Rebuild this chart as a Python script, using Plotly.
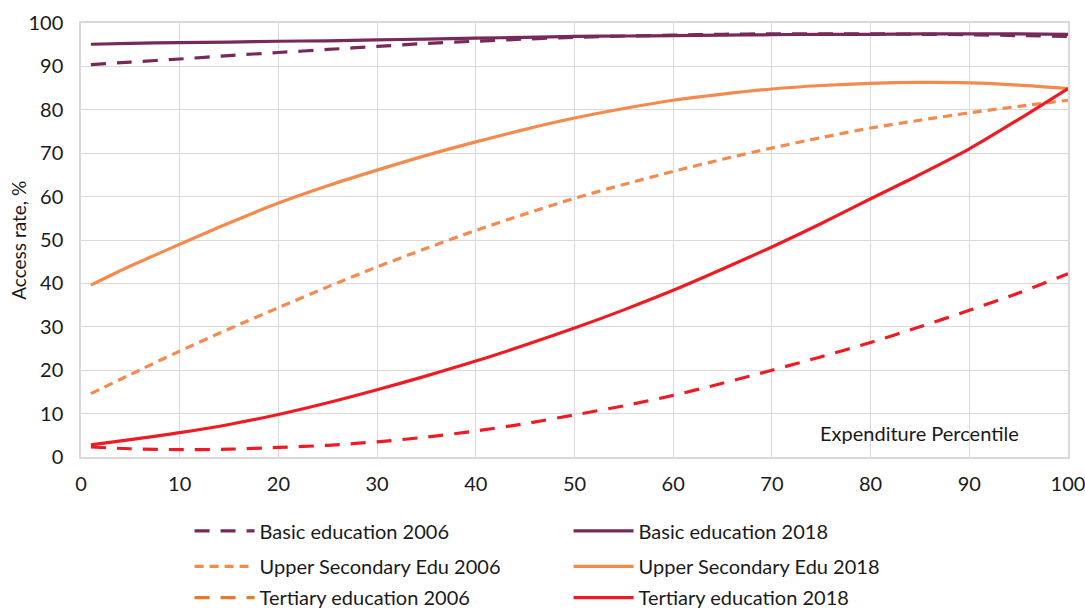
import plotly.graph_objects as go

# Expenditure percentile (x) and access rates (%)
percentile = [1, 5, 10, 15, 20, 25, 30, 35, 40, 45, 50, 55, 60, 65, 70, 75, 80, 85, 90, 95, 100]

basic_2006 = [90.4, 91.0, 91.7, 92.5, 93.2, 93.9, 94.6, 95.3, 95.8, 96.3, 96.7, 97.0, 97.2, 97.4, 97.5, 97.5, 97.5, 97.4, 97.3, 97.1, 96.9]
basic_2018 = [95.1, 95.3, 95.5, 95.6, 95.8, 95.9, 96.1, 96.3, 96.5, 96.7, 96.9, 97.0, 97.1, 97.2, 97.3, 97.4, 97.4, 97.5, 97.5, 97.5, 97.4]
upper_2006 = [14.6, 19.0, 24.4, 29.5, 34.4, 39.2, 43.8, 48.1, 52.2, 56.0, 59.6, 62.8, 65.8, 68.6, 71.2, 73.6, 75.8, 77.6, 79.3, 80.8, 82.2]
upper_2018 = [39.6, 44.0, 49.0, 53.9, 58.5, 62.5, 66.1, 69.5, 72.6, 75.5, 78.1, 80.3, 82.2, 83.6, 84.8, 85.6, 86.1, 86.3, 86.2, 85.7, 84.9]
tertiary_2006 = [2.3, 1.9, 1.7, 1.8, 2.2, 2.7, 3.5, 4.6, 6.0, 7.7, 9.7, 11.8, 14.2, 17.0, 20.0, 23.1, 26.4, 30.0, 33.8, 37.8, 42.2]
tertiary_2018 = [2.8, 4.0, 5.6, 7.5, 9.8, 12.5, 15.5, 18.7, 22.1, 25.8, 29.7, 33.9, 38.4, 43.3, 48.4, 53.8, 59.5, 65.1, 71.0, 77.8, 84.9]

x_ticks = [0, 10, 20, 30, 40, 50, 60, 70, 80, 90, 100]
y_ticks = [0, 10, 20, 30, 40, 50, 60, 70, 80, 90, 100]

PURPLE = "#772A5A"
ORANGE = "#F58A4E"
RED = "#ED1C24"
LEGEND_ORANGE = "#E57A2B"

FONT = "Lato"
TXT = "#1a1a1a"

fig = go.Figure()

def add(y, name, color, dash, legend="legend", showlegend=True, rank=None):
    fig.add_trace(go.Scatter(
        x=percentile, y=y, name=name, mode="lines",
        line=dict(color=color, width=3.2, dash=dash, shape="spline", smoothing=0.8),
        showlegend=showlegend, legend=legend, legendrank=rank, hoverinfo="name+x+y",
    ))

add(basic_2006, "Basic education 2006", PURPLE, "15px,11px", "legend", rank=1)
add(basic_2018, "Basic education 2018", PURPLE, "solid", "legend", rank=2)
add(upper_2006, "Upper Secondary Edu 2006", ORANGE, "9px,6px", "legend2", rank=1)
add(upper_2018, "Upper Secondary Edu 2018", ORANGE, "solid", "legend2", rank=2)
add(tertiary_2006, "Tertiary education 2006", RED, "15px,11px", "legend3", showlegend=False)
add(tertiary_2018, "Tertiary education 2018", RED, "solid", "legend3", rank=2)

# legend-only entry (the source legend shows this series in orange)
fig.add_trace(go.Scatter(
    x=[None], y=[None], name="Tertiary education 2006", mode="lines",
    line=dict(color=LEGEND_ORANGE, width=3.2, dash="15px,11px"),
    legend="legend3", legendrank=1, hoverinfo="skip",
))

fig.add_annotation(
    x=95.2, y=5.5, xref="x", yref="y", text="Expenditure Percentile",
    showarrow=False, xanchor="right", yanchor="middle",
    font=dict(family=FONT, size=20, color=TXT),
)

# y-axis title placed as rotated text left of the tick labels
fig.add_annotation(
    x=-0.064, y=0.5, xref="paper", yref="paper", text="Access rate, %",
    showarrow=False, textangle=-90, xanchor="center", yanchor="middle",
    font=dict(family=FONT, size=19, color=TXT),
)

def leg(yc):
    return dict(
        orientation="h", x=0.110, y=yc, xanchor="left", yanchor="middle",
        entrywidth=304, entrywidthmode="pixels",
        font=dict(family=FONT, size=20, color=TXT),
        itemwidth=60, traceorder="normal", bgcolor="rgba(0,0,0,0)",
    )

grid = "#D9D9D9"
fig.update_layout(
    width=1085, height=612,
    margin=dict(l=81, r=17, t=23, b=155, autoexpand=False),
    paper_bgcolor="white", plot_bgcolor="white",
    font=dict(family=FONT, size=20, color=TXT),
    showlegend=True,
    legend=leg(-0.170),
    legend2=leg(-0.252),
    legend3=leg(-0.324),
    xaxis=dict(
        range=[0, 100], tickvals=x_ticks, ticktext=[str(v) for v in x_ticks],
        showgrid=True, gridcolor=grid, gridwidth=1.3,
        showline=True, linecolor=grid, linewidth=1.5, mirror=True,
        zeroline=False, ticks="", ticklabelstandoff=8, automargin=False,
        ticklabeloverflow="allow",
        tickfont=dict(family=FONT, size=20, color=TXT),
    ),
    yaxis=dict(
        range=[0, 100], tickvals=y_ticks, ticktext=[str(v) for v in y_ticks],
        showgrid=True, gridcolor=grid, gridwidth=1.3,
        showline=True, linecolor=grid, linewidth=1.5, mirror=True,
        zeroline=False, ticks="", ticklabelstandoff=12, automargin=False,
        ticklabeloverflow="allow",
        tickfont=dict(family=FONT, size=20, color=TXT),
    ),
)

fig.write_html(
    "out.html",
    config={"displayModeBar": False},
    post_script="document.body.style.margin='0';document.body.style.overflow='hidden';",
)
